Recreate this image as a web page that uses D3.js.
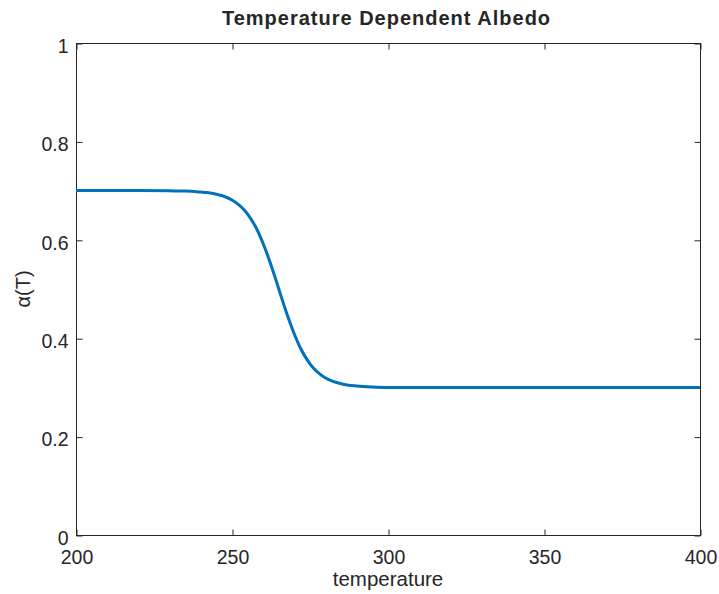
<!DOCTYPE html>
<html>
<head>
<meta charset="utf-8">
<script src="https://cdn.jsdelivr.net/npm/d3@7"></script>
<style>
  body { margin: 0; background: #fff; }
  text { font-family: "Liberation Sans", Arial, sans-serif; fill: #262626; }
</style>
</head>
<body>
<div id="the_chart"></div>
<script>
// values
var temperature = [200, 220, 230, 235, 240, 242, 244, 246, 248, 250, 252, 254, 256, 258, 260, 262, 264,
                   266, 268, 270, 272, 274, 276, 278, 280, 283, 286, 290, 295, 300, 350, 400];
var albedo = [0.700, 0.700, 0.6995, 0.699, 0.697, 0.696, 0.694, 0.691, 0.687, 0.681, 0.672, 0.660, 0.643, 0.621, 0.592, 0.558, 0.520,
              0.480, 0.442, 0.408, 0.379, 0.357, 0.340, 0.328, 0.319, 0.311, 0.306, 0.303, 0.301, 0.300, 0.300, 0.300];
var xTicks = [200, 250, 300, 350, 400];
var yTicks = [0, 0.2, 0.4, 0.6, 0.8, 1];

function gen_vis() {
    var w = 719, h = 594;
    var left = 76, right = 700, top = 43, bottom = 535;

    var svg = d3.select("#the_chart").append("svg")
        .attr("width", w)
        .attr("height", h);

    var xscale = d3.scaleLinear().domain([200, 400]).range([left, right]);
    var yscale = d3.scaleLinear().domain([0, 1]).range([bottom, top]);

    var data = temperature.map(function (t, i) { return [t, albedo[i]]; });

    // box
    svg.append("rect")
        .attr("x", left + 0.5).attr("y", top + 0.5)
        .attr("width", right - left).attr("height", bottom - top)
        .attr("fill", "none").attr("stroke", "#262626").attr("stroke-width", 1);

    var line = d3.line()
        .x(function (d) { return xscale(d[0]); })
        .y(function (d) { return yscale(d[1]); })
        .curve(d3.curveMonotoneX);

    svg.append("path")
        .datum(data)
        .attr("d", line)
        .attr("fill", "none")
        .attr("stroke", "#0072BD")
        .attr("stroke-width", 3);

    // inward ticks, like matlab
    var xaxis = d3.axisBottom(xscale).tickValues(xTicks).tickSizeInner(-6).tickSizeOuter(0).tickPadding(14);
    var xaxisTop = d3.axisTop(xscale).tickValues(xTicks).tickSizeInner(-6).tickSizeOuter(0).tickFormat("");
    var yaxis = d3.axisLeft(yscale).tickValues(yTicks).tickSizeInner(-6).tickSizeOuter(0).tickPadding(8).tickFormat(d3.format("~g"));
    var yaxisRight = d3.axisRight(yscale).tickValues(yTicks).tickSizeInner(-6).tickSizeOuter(0).tickFormat("");

    svg.append("g").attr("class", "xaxis")
        .attr("transform", "translate(0.5," + (bottom + 0.5) + ")").call(xaxis);
    svg.append("g").attr("transform", "translate(0.5," + (top + 0.5) + ")").call(xaxisTop);
    svg.append("g").attr("class", "yaxis")
        .attr("transform", "translate(" + (left + 0.5) + ",0.5)").call(yaxis);
    svg.append("g").attr("transform", "translate(" + (right + 0.5) + ",0.5)").call(yaxisRight);

    svg.selectAll(".domain").remove();
    svg.selectAll(".tick line").attr("stroke", "#262626");
    svg.selectAll(".xaxis text, .yaxis text")
        .style("font-size", "19.5px")
        .style("font-family", "'Liberation Sans', Arial, sans-serif")
        .attr("fill", "#262626");
    svg.selectAll(".xaxis text").attr("dy", null).attr("y", 28);
    svg.selectAll(".yaxis text").attr("dy", "0.45em");

    svg.append("text")
        .attr("x", 386.5).attr("y", 25)
        .attr("text-anchor", "middle")
        .style("font-size", "20px").style("font-weight", "bold")
        .style("letter-spacing", "1px")
        .attr("fill", "#000")
        .text("Temperature Dependent Albedo");

    svg.append("text")
        .attr("x", (left + right) / 2).attr("y", 586)
        .attr("text-anchor", "middle")
        .style("font-size", "20.5px")
        .text("temperature");

    svg.append("text")
        .attr("transform", "translate(30," + ((top + bottom) / 2) + ") rotate(-90)")
        .attr("text-anchor", "middle")
        .style("font-size", "20px")
        .text("α(T)");
}

gen_vis();
</script>
</body>
</html>
